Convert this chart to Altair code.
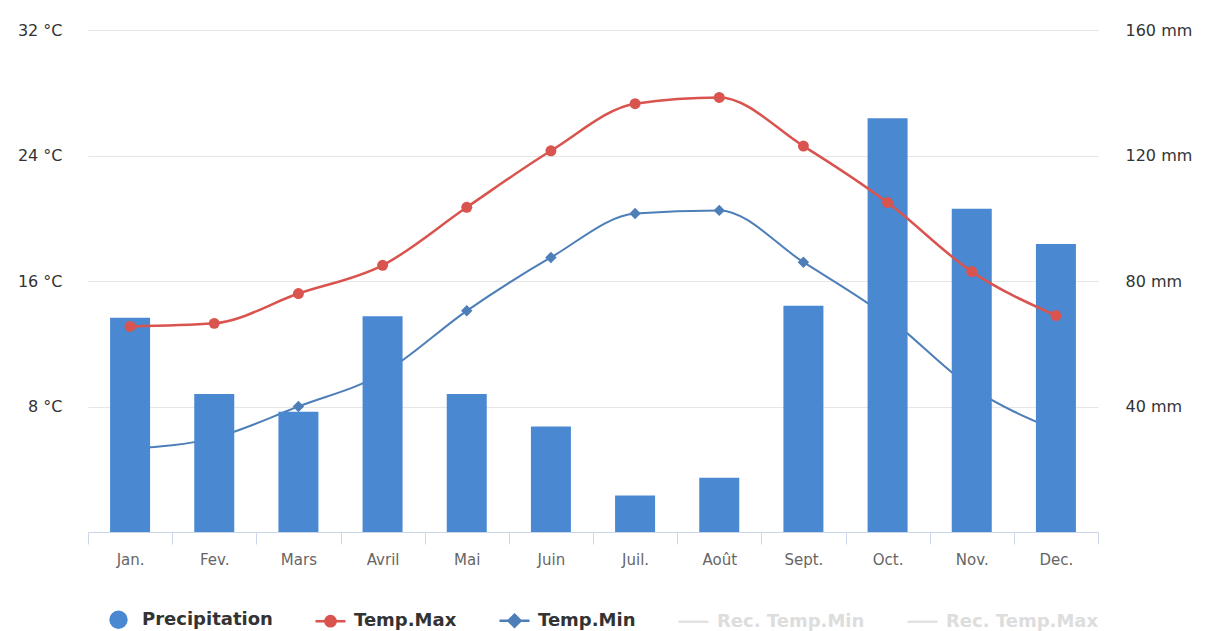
import altair as alt
import pandas as pd

months = ["Jan.", "Fev.", "Mars", "Avril", "Mai", "Juin", "Juil.", "Août", "Sept.", "Oct.", "Nov.", "Dec."]
precip_mm = [68.3, 44.0, 38.3, 68.8, 44.0, 33.6, 11.6, 17.3, 72.1, 131.9, 103.0, 91.8]
temp_max = [13.1, 13.3, 15.2, 17.0, 20.7, 24.3, 27.3, 27.7, 24.6, 21.0, 16.6, 13.8]
temp_min = [5.3, 6.0, 8.0, 10.1, 14.1, 17.5, 20.3, 20.5, 17.2, 13.7, 9.2, 6.5]

series_names = ["Precipitation", "Temp.Max", "Temp.Min", "Rec. Temp.Min", "Rec. Temp.Max"]
series_colors = ["#4a89d1", "#d9534f", "#4d7eb8", "#e2e2e2", "#e2e2e2"]

temp_ticks = [8, 16, 24, 32]
precip_ticks = [40, 80, 120, 160]

df_precip = pd.DataFrame({"month": months, "value": precip_mm, "series": "Precipitation"})
df_max = pd.DataFrame({"month": months, "value": temp_max, "series": "Temp.Max"})
df_min = pd.DataFrame({"month": months, "value": temp_min, "series": "Temp.Min"})

FONT = "DejaVu Sans"

x_enc = alt.X(
    "month:N",
    sort=months,
    scale=alt.Scale(paddingInner=0, paddingOuter=0),
    axis=alt.Axis(
        title=None, labelAngle=0, labelFontSize=15, labelColor="#666666", labelFont=FONT,
        domainColor="#ccd6eb", tickColor="#ccd6eb", tickSize=12, tickBand="extent",
        labelPadding=8, grid=False,
    ),
)

temp_scale = alt.Scale(domain=[0, 32], nice=False, zero=True)
precip_scale = alt.Scale(domain=[0, 160], nice=False, zero=True)

path_precip = "M0.53,0A0.53,0.53,0,1,1,-0.53,0A0.53,0.53,0,1,1,0.53,0Z"
path_max = "M-1,0L1,0M0.34,0A0.34,0.34,0,1,1,-0.34,0A0.34,0.34,0,1,1,0.34,0Z"
path_min = "M-1,0L1,0M0,-0.4L0.4,0L0,0.4L-0.4,0Z"
path_rec = "M-1,0L1,0"

sym_expr = (
    f"datum.label == 'Precipitation' ? '{path_precip}' : "
    f"datum.label == 'Temp.Max' ? '{path_max}' : "
    f"datum.label == 'Temp.Min' ? '{path_min}' : '{path_rec}'"
)
stroke_expr = (
    f"datum.label == 'Precipitation' ? '{series_colors[0]}' : "
    f"datum.label == 'Temp.Max' ? '{series_colors[1]}' : "
    f"datum.label == 'Temp.Min' ? '{series_colors[2]}' : '{series_colors[3]}'"
)
label_expr = "indexof(datum.label, 'Rec') == 0 ? '#dddddd' : '#333333'"

legend = alt.Legend(
    title=None, orient="none", direction="horizontal", columns=5,
    legendX=14, legendY=573,
    symbolType=alt.ExprRef(expr=sym_expr),
    symbolStrokeColor=alt.ExprRef(expr=stroke_expr),
    symbolSize=900, symbolStrokeWidth=2.5, symbolOpacity=1,
    labelColor=alt.ExprRef(expr=label_expr),
    labelFont=FONT, labelFontSize=18, labelFontWeight="bold",
    columnPadding=37, labelOffset=7,
)
color_enc = alt.Color(
    "series:N",
    scale=alt.Scale(domain=series_names, range=series_colors),
    legend=legend,
)

min_line = alt.Chart(df_min).mark_line(
    interpolate="monotone", color=series_colors[2], strokeWidth=2
).encode(
    x=x_enc,
    y=alt.Y(
        "value:Q", scale=temp_scale,
        axis=alt.Axis(
            orient="left", title=None, values=temp_ticks, labelExpr="datum.value + ' °C'",
            domain=False, ticks=False, labelPadding=26, labelFontSize=16, labelColor="#333333",
            labelFont=FONT, grid=True, gridColor="#e6e6e6", gridWidth=1,
        ),
    ),
)
min_pts = alt.Chart(df_min).mark_point(
    filled=True, shape="diamond", size=130, opacity=1
).encode(
    x=x_enc, y=alt.Y("value:Q", scale=temp_scale, axis=None), color=color_enc
)
bars = alt.Chart(df_precip).mark_bar(color=series_colors[0], size=40).encode(
    x=x_enc,
    y=alt.Y(
        "value:Q", scale=precip_scale,
        axis=alt.Axis(
            orient="right", title=None, values=precip_ticks, labelExpr="datum.value + ' mm'",
            domain=False, ticks=False, labelPadding=27, labelFontSize=16, labelColor="#333333",
            labelFont=FONT, grid=False,
        ),
    ),
)
max_line = alt.Chart(df_max).mark_line(
    interpolate="monotone", color=series_colors[1], strokeWidth=2.5
).encode(
    x=x_enc, y=alt.Y("value:Q", scale=temp_scale, axis=None)
)
max_pts = alt.Chart(df_max).mark_point(
    filled=True, shape="circle", size=120, opacity=1
).encode(
    x=x_enc, y=alt.Y("value:Q", scale=temp_scale, axis=None), color=color_enc
)

chart = alt.layer(min_line, min_pts, bars, max_line, max_pts).resolve_scale(
    y="independent"
).properties(
    width=1010, height=502,
    autosize=alt.AutoSizeParams(type="none"),
    padding={"left": 88, "top": 30, "right": 115, "bottom": 99},
    background="white",
).configure(
    font=FONT,
    view=alt.ViewConfig(strokeWidth=0, stroke="transparent"),
)

chart.save("out.html", embed_options={"renderer": "svg", "actions": False})
